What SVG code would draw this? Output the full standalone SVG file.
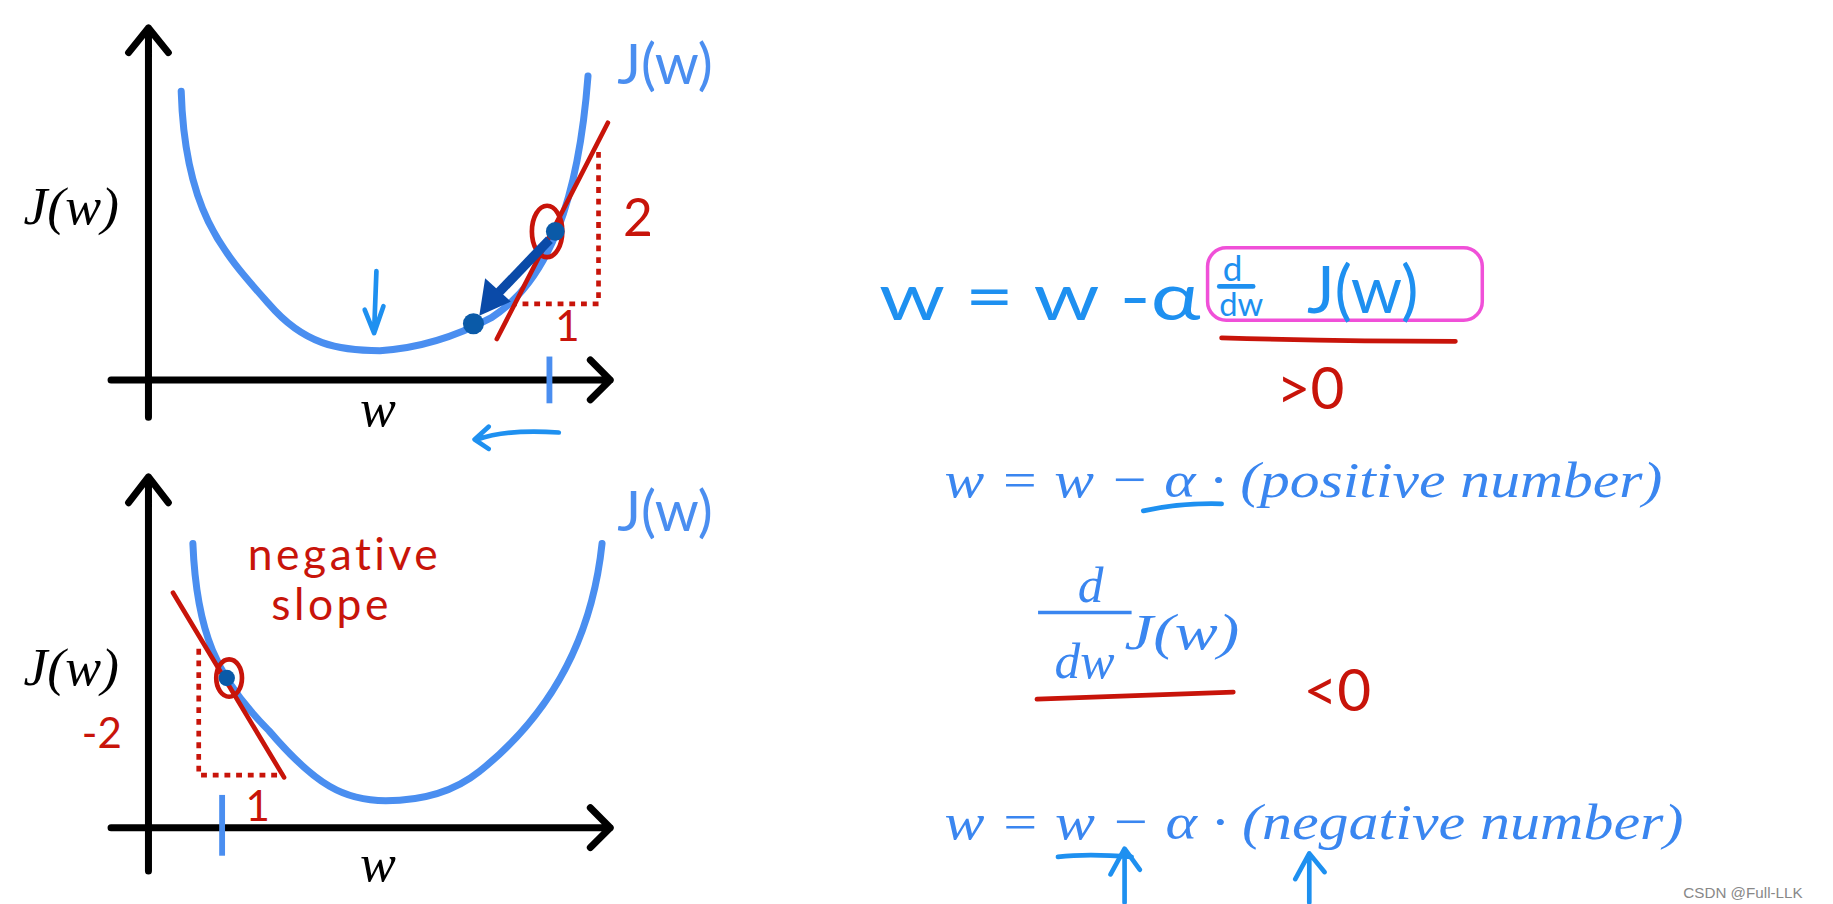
<svg xmlns="http://www.w3.org/2000/svg" width="1833" height="904" viewBox="0 0 1833 904">
<style>
.ax{stroke:#000;stroke-width:6;fill:none;stroke-linecap:round;stroke-linejoin:round}
.cv{stroke:#4a8ef0;stroke-width:6;fill:none;stroke-linecap:round}
.rd{stroke:#c8140a;stroke-width:4;fill:none;stroke-linecap:round}
.dt{stroke:#c8140a;stroke-width:4;fill:none;stroke-dasharray:5 5}
.bl{stroke:#1e90f0;stroke-width:4;fill:none;stroke-linecap:round;stroke-linejoin:round}
.hb{font-family:Lato,"Liberation Sans",sans-serif;fill:#4a8ef0}
.hc{font-family:Lato,"Liberation Sans",sans-serif;fill:#1e90f0}
.hr{font-family:Lato,"Liberation Sans",sans-serif;fill:#c8140a}
.mk{font-family:"Liberation Serif",serif;font-style:italic;fill:#000;font-size:46px}
.mb{font-family:"Liberation Serif",serif;font-style:italic;fill:#3a86f0;font-size:44px}
</style>
<rect width="1833" height="904" fill="#fff"/>
<g transform="scale(1.169)">
<g id="top-chart">
<path class="ax" d="M127,357 V24 M110,45 L127,24 L144,45 M95,325 H522 M505,308 L522,325 L505,342"/>
<path class="cv" d="M155,78 C158,180 190,215 230,260 C260,295 290,300 325,300 C360,298 390,288 420,272 C470,240 495,170 503,65"/>
<line x1="470" y1="305" x2="470" y2="345" stroke="#4a8ef0" stroke-width="5"/>
<line class="rd" x1="425" y1="290" x2="520" y2="105" stroke-width="5"/>
<path class="dt" d="M512,130 V260 H440"/>
<ellipse cx="468" cy="198" rx="13" ry="22" class="rd" stroke-width="5"/>
<circle cx="475" cy="198" r="8" fill="#0a5aa8"/>
<circle cx="405" cy="277" r="9" fill="#0a5aa8"/>
<line x1="470" y1="205" x2="425" y2="252" stroke="#0a4aa8" stroke-width="8"/>
<polygon points="410,270 415,238 437,258" fill="#0a4aa8"/>
<path class="bl" d="M322,232 L320,285 M312,265 L320,285 L328,262"/>
<path class="bl" d="M478,370 C450,368 425,370 408,376 M418,365 L406,376 L418,384" stroke-width="6"/>
<text class="hb" x="528" y="72" font-size="48">J(w)</text>
<text class="mk" x="20" y="192">J(w)</text>
<text class="mk" x="308" y="364">w</text>
<text class="hr" x="533" y="202" font-size="44">2</text>
<text class="hr" x="475" y="292" font-size="36">1</text>
</g>
<g id="bottom-chart">
<path class="ax" d="M127,745 V408 M110,430 L127,408 L144,430 M95,708 H522 M505,691 L522,708 L505,725"/>
<path class="cv" d="M165,465 C168,540 185,580 230,625 C270,672 295,685 330,685 C370,685 395,672 410,660 C460,620 505,560 515,465"/>
<line x1="190" y1="680" x2="190" y2="732" stroke="#4a8ef0" stroke-width="5"/>
<line class="rd" x1="148" y1="507" x2="243" y2="665" stroke-width="5"/>
<path class="dt" d="M170,555 V663 H243"/>
<ellipse cx="196" cy="580" rx="11" ry="16" class="rd" stroke-width="5"/>
<circle cx="194" cy="580" r="7" fill="#0a5aa8"/>
<text class="hb" x="528" y="454" font-size="48">J(w)</text>
<text class="hr" x="212" y="488" font-size="38" letter-spacing="3">negative</text>
<text class="hr" x="232" y="530" font-size="38" letter-spacing="3">slope</text>
<text class="mk" x="20" y="586">J(w)</text>
<text class="hr" x="70" y="640" font-size="36">-2</text>
<text class="hr" x="210" y="702" font-size="36">1</text>
<text class="mk" x="308" y="754">w</text>
</g>
<g id="equations">
<text class="hc" x="752" y="274" font-size="56" textLength="275" lengthAdjust="spacingAndGlyphs">w = w -α</text>
<rect x="1033" y="212" width="235" height="62" rx="16" fill="none" stroke="#f050d8" stroke-width="3"/>
<text class="hc" x="1046" y="240" font-size="30">d</text>
<line x1="1043" y1="245" x2="1072" y2="245" class="bl" stroke-width="3"/>
<text class="hc" x="1043" y="270" font-size="28">dw</text>
<text class="hc" x="1118" y="268" font-size="56">J(w)</text>
<path class="rd" d="M1045,289 Q1150,292 1245,292"/>
<text class="hr" x="1092" y="350" font-size="50">&gt;0</text>
<text class="mb" x="808" y="425" textLength="614" lengthAdjust="spacingAndGlyphs">w = w − α · (positive number)</text>
<path class="bl" d="M978,437 Q1010,430 1045,431"/>
<text class="mb" x="922" y="515">d</text>
<line x1="888" y1="524" x2="968" y2="524" stroke="#3a86f0" stroke-width="3"/>
<text class="mb" x="902" y="580">dw</text>
<text class="mb" x="962" y="555" textLength="98" lengthAdjust="spacingAndGlyphs">J(w)</text>
<path class="rd" d="M887,598 Q970,595 1055,592"/>
<text class="hr" x="1115" y="608" font-size="50">&lt;0</text>
<text class="mb" x="808" y="718" textLength="632" lengthAdjust="spacingAndGlyphs">w = w − α · (negative number)</text>
<path class="bl" d="M905,733 Q930,730 968,733"/>
<path class="bl" d="M962,772 V728 M950,748 L962,726 L975,744"/>
<path class="bl" d="M1120,772 V732 M1108,752 L1120,730 L1133,746"/>
<text x="1440" y="768" font-family="Liberation Sans,sans-serif" font-size="13" fill="#888">CSDN @Full-LLK</text>
</g>
</g>
</svg>
